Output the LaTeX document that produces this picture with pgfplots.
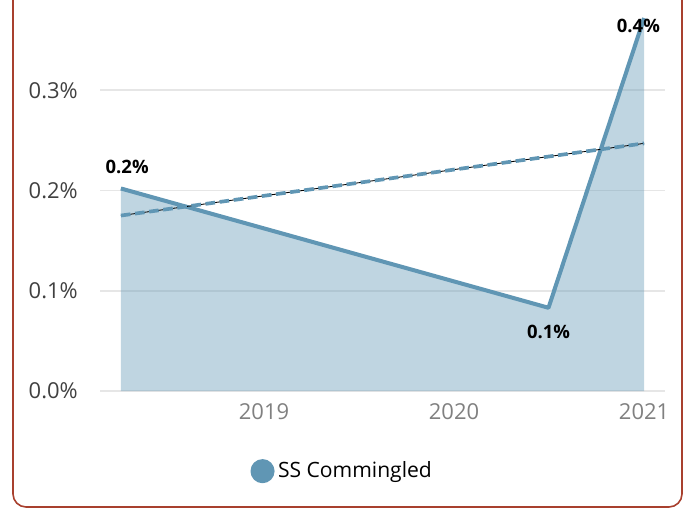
\documentclass[border=0pt]{standalone}
\usepackage{pgfplots}
\pgfplotsset{compat=1.18}
\usepackage{fontspec}
\setmainfont{Open Sans}
\definecolor{ssblue}{HTML}{6096B4}
\definecolor{gridgray}{HTML}{E6E6E6}
\definecolor{frame}{HTML}{A8402E}
\definecolor{ticky}{HTML}{404040}
\definecolor{tickx}{HTML}{808080}

\begin{document}
\begin{tikzpicture}
% page = 694 x 509 px at 0.02cm per px
\useasboundingbox (0,0) rectangle (13.88,10.18);
\draw[frame, line width=0.9pt, rounded corners=0.26cm]
  (0.26,10.6) -- (0.26,0.04) -- (13.64,0.04) -- (13.64,10.6);
\begin{axis}[
  at={(2cm,2.36cm)}, anchor=south west,
  scale only axis, width=11.3cm, height=7.82cm,
  xmin=2018.137, xmax=2021.11,
  ymin=0, ymax=0.39,
  axis line style={draw=none},
  major tick length=0pt,
  xtick={2019,2020,2021},
  xticklabels={2019,2020,2021},
  ytick={0,0.1,0.2,0.3},
  yticklabels={0.0\%,0.1\%,0.2\%,0.3\%},
  ymajorgrids, grid style={gridgray, line width=1pt},
  y tick label style={font=\fontsize{12.5}{14}\selectfont, text=ticky, xshift=-0.32cm},
  x tick label style={font=\fontsize{12.5}{14}\selectfont, text=tickx, yshift=-0.12cm},
  clip=false,
  legend style={draw=none, fill=none, at={(axis description cs:0.43,-0.205)}, anchor=center,
    font=\fontsize{12}{14}\selectfont, legend cell align=left,
    /tikz/every even column/.style={column sep=2pt}},
  legend image code/.code={\fill[ssblue] (0.1cm,0cm) circle (0.2cm);},
]
\addplot[fill=ssblue, fill opacity=0.4, draw=none, forget plot]
  coordinates {(2018.247,0.202) (2020.497,0.083) (2021.0,0.372)} \closedcycle;
\addplot[ssblue, line width=2.3pt, line join=round]
  coordinates {(2018.247,0.202) (2020.497,0.083) (2021.0,0.372)};
\addlegendentry{SS Commingled}
\addplot[black, line width=0.5pt, forget plot]
  coordinates {(2018.247,0.175) (2021.0,0.247)};
\addplot[ssblue, line width=2.1pt, dash pattern=on 5.5pt off 2.6pt, forget plot]
  coordinates {(2018.247,0.175) (2021.0,0.247)};
\node[font=\fontsize{10.5}{12}\selectfont\bfseries, anchor=south] at (axis cs:2018.28,0.211) {0.2\%};
\node[font=\fontsize{10.5}{12}\selectfont\bfseries, anchor=north] at (axis cs:2020.497,0.072) {0.1\%};
\node[font=\fontsize{10.5}{12}\selectfont\bfseries, anchor=center] at (axis cs:2020.97,0.364) {0.4\%};
\end{axis}
\end{tikzpicture}
\end{document}
